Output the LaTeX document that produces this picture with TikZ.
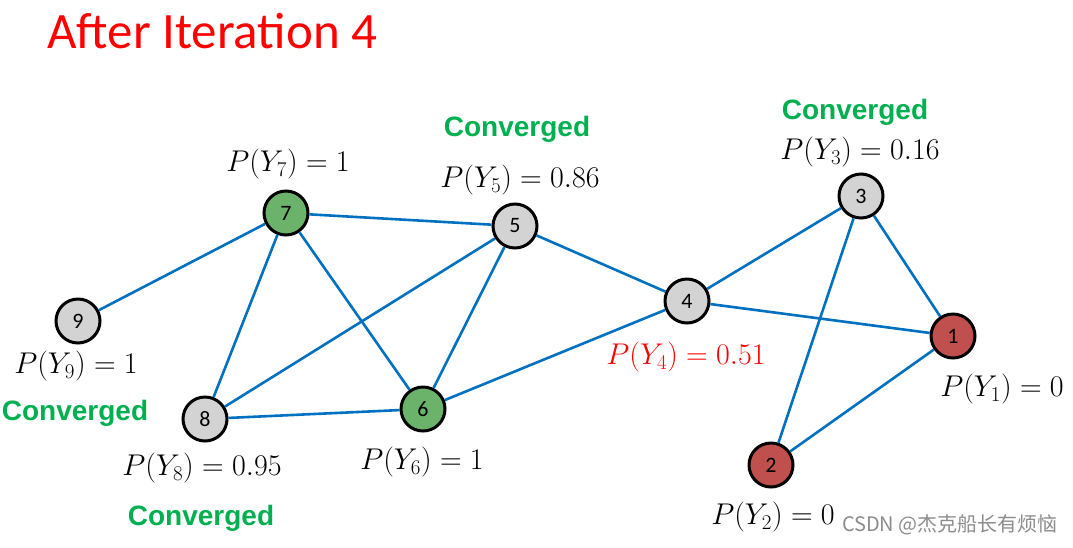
\documentclass[tikz,border=0pt]{standalone}
\usepackage{fix-cm}
\usepackage{fontspec}
\setmainfont{Carlito}
\newfontfamily\arialbold[BoldFont={Liberation Sans Bold}]{Liberation Sans}
\newfontfamily\cjk{Noto Sans CJK SC}
\definecolor{edgeblue}{HTML}{0070C0}
\definecolor{nodegray}{HTML}{D3D3D3}
\definecolor{nodegreen}{HTML}{6BB36B}
\definecolor{nodered}{HTML}{C0504D}
\definecolor{convgreen}{HTML}{00B050}
\tikzset{
  vert/.style={circle, draw=black, line width=3pt, minimum size=44pt, inner sep=0pt, font=\fontsize{22}{24}\selectfont},
  gvert/.style={vert, fill=nodegray},
  gnvert/.style={vert, fill=nodegreen},
  rvert/.style={vert, fill=nodered},
  link/.style={draw=edgeblue, line width=2.6pt},
  prob/.style={font=\fontsize{30}{32}\selectfont, inner sep=0pt},
  conv/.style={font=\fontsize{28}{30}\arialbold\bfseries, text=convgreen, inner sep=0pt},
}
\begin{document}
\begin{tikzpicture}[x=1pt,y=-1pt]
\useasboundingbox (0,0) rectangle (1073,547);
% title
\node[anchor=west, text=red, font=\fontsize{51}{53}\selectfont, inner sep=0pt] (title) at (47,31) {After Iteration 4};
% nodes
\node[gnvert] (n7) at (286,213) {7};
\node[gvert] (n5) at (515,226) {5};
\node[gvert] (n9) at (78,321) {9};
\node[gvert] (n8) at (205,419) {8};
\node[gnvert] (n6) at (423,409) {6};
\node[gvert] (n4) at (687,301) {4};
\node[gvert] (n3) at (861,196) {3};
\node[rvert] (n1) at (953,336) {1};
\node[rvert] (n2) at (771,465) {2};
% edges
\draw[link] (n7) -- (n5);
\draw[link] (n7) -- (n9);
\draw[link] (n7) -- (n8);
\draw[link] (n7) -- (n6);
\draw[link] (n5) -- (n8);
\draw[link] (n5) -- (n6);
\draw[link] (n5) -- (n4);
\draw[link] (n8) -- (n6);
\draw[link] (n6) -- (n4);
\draw[link] (n4) -- (n3);
\draw[link] (n4) -- (n1);
\draw[link] (n3) -- (n1);
\draw[link] (n3) -- (n2);
\draw[link] (n1) -- (n2);
% probability labels
\node[prob] (p7) at (288,164) {$P(Y_7)=1$};
\node[prob] (p5) at (520,180) {$P(Y_5)=0.86$};
\node[prob] (p3) at (860,152) {$P(Y_3)=0.16$};
\node[prob] (p9) at (76,366) {$P(Y_9)=1$};
\node[prob] (p8) at (202,468) {$P(Y_8)=0.95$};
\node[prob] (p6) at (422,462) {$P(Y_6)=1$};
\node[prob, text=red] (p4) at (686,357) {$P(Y_4)=0.51$};
\node[prob] (p1) at (1002,389) {$P(Y_1)=0$};
\node[prob] (p2) at (773,517) {$P(Y_2)=0$};
% converged labels
\node[conv] (c5) at (517,129) {Converged};
\node[conv] (c3) at (855,112) {Converged};
\node[conv] (c9) at (75,413) {Converged};
\node[conv] (c8) at (201,518) {Converged};
% watermark
\node[anchor=east, text=black!45, font=\fontsize{20}{22}\cjk, inner sep=0pt] (wm) at (1058,525) {CSDN @杰克船长有烦恼};
\end{tikzpicture}
\end{document}
